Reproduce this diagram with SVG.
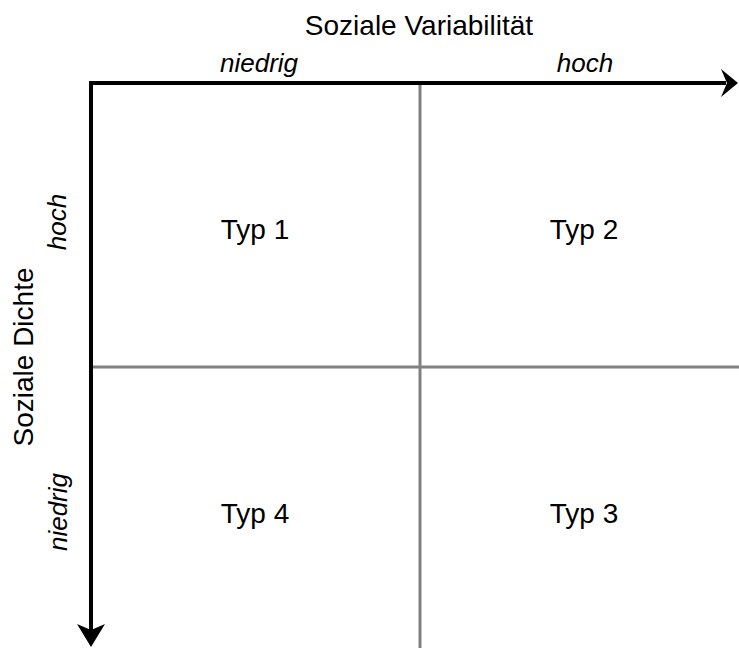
<svg xmlns="http://www.w3.org/2000/svg" width="739" height="648" viewBox="0 0 739 648">
<style>
.lbl{font-family:"Liberation Sans",Arial,sans-serif;font-size:28px;fill:#000;text-anchor:middle}
.it{font-family:"Liberation Sans",Arial,sans-serif;font-size:26px;font-style:italic;fill:#000;text-anchor:middle}
.grid{stroke:#808080;stroke-width:3;fill:none}
.axis{stroke:#000;stroke-width:4;fill:none}
</style>
<rect width="739" height="648" fill="#fff"/>
<g id="connectors">
<line class="grid" x1="420" y1="85" x2="420" y2="648"/>
<line class="grid" x1="93" y1="367" x2="739" y2="367"/>
<polyline class="axis" points="726,83 91,83 91,630" stroke-linejoin="miter"/>
<polygon points="738,83 721,69 727,83 721,97" fill="#000"/>
<polygon points="91,647 77,624 91,630 105,624" fill="#000"/>
</g>
<g id="axis-x-title"><text class="lbl" x="419" y="35">Soziale Variabilität</text></g>
<g id="axis-x-low"><text class="it" x="259" y="72">niedrig</text></g>
<g id="axis-x-high"><text class="it" x="585" y="72">hoch</text></g>
<g id="axis-y-title"><text class="lbl" transform="translate(33,357) rotate(-90)">Soziale Dichte</text></g>
<g id="axis-y-high"><text class="it" transform="translate(66,222) rotate(-90)">hoch</text></g>
<g id="axis-y-low"><text class="it" transform="translate(67,512) rotate(-90)">niedrig</text></g>
<g id="typ1"><text class="lbl" x="255" y="239">Typ 1</text></g>
<g id="typ2"><text class="lbl" x="584" y="239">Typ 2</text></g>
<g id="typ4"><text class="lbl" x="255" y="523">Typ 4</text></g>
<g id="typ3"><text class="lbl" x="584" y="523">Typ 3</text></g>
</svg>
